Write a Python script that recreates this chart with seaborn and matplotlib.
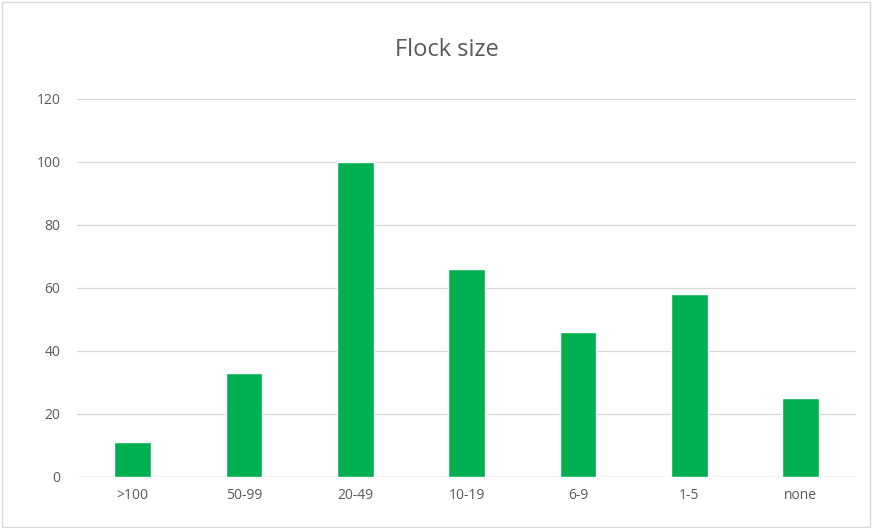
import matplotlib
matplotlib.use("Agg")
import matplotlib.pyplot as plt
import seaborn as sns
import pandas as pd

categories = [">100", "50-99", "20-49", "10-19", "6-9", "1-5", "none"]
counts = [11, 33, 100, 66, 46, 58, 25]

df = pd.DataFrame({"size": categories, "count": counts})

sns.set_theme(style="white")
plt.rcParams["font.family"] = ["Open Sans", "DejaVu Sans"]

fig = plt.figure(figsize=(8.72, 5.28), dpi=100)
ax = fig.add_axes([0.0883, 0.0966, 0.8937, 0.7159])

sns.barplot(data=df, x="size", y="count", color="#00B050", saturation=1,
            width=0.33, ax=ax, zorder=3)

ax.set_ylim(0, 120)
ax.set_yticks(range(0, 121, 20))
ax.set_xlim(-0.5, len(categories) - 0.5)
ax.yaxis.grid(True, color="#D9D9D9", linewidth=0.9, zorder=0)
for s in ax.spines.values():
    s.set_visible(False)
ax.axhline(0, color="#D9D9D9", linewidth=0.9, zorder=1)
ax.tick_params(axis="both", length=0, colors="#595959", labelsize=10)
ax.tick_params(axis="x", pad=8)
ax.tick_params(axis="y", pad=12)
ax.set_xlabel("")
ax.set_ylabel("")

fig.text(0.512, 0.905, "Flock size", ha="center", va="center",
         fontsize=17, color="#595959")

# chart border
fig.patches.append(plt.Rectangle((0.002, 0.002), 0.996, 0.994, transform=fig.transFigure,
                                 fill=False, edgecolor="#D9D9D9", linewidth=1))

fig.savefig("out.png", dpi=100)
